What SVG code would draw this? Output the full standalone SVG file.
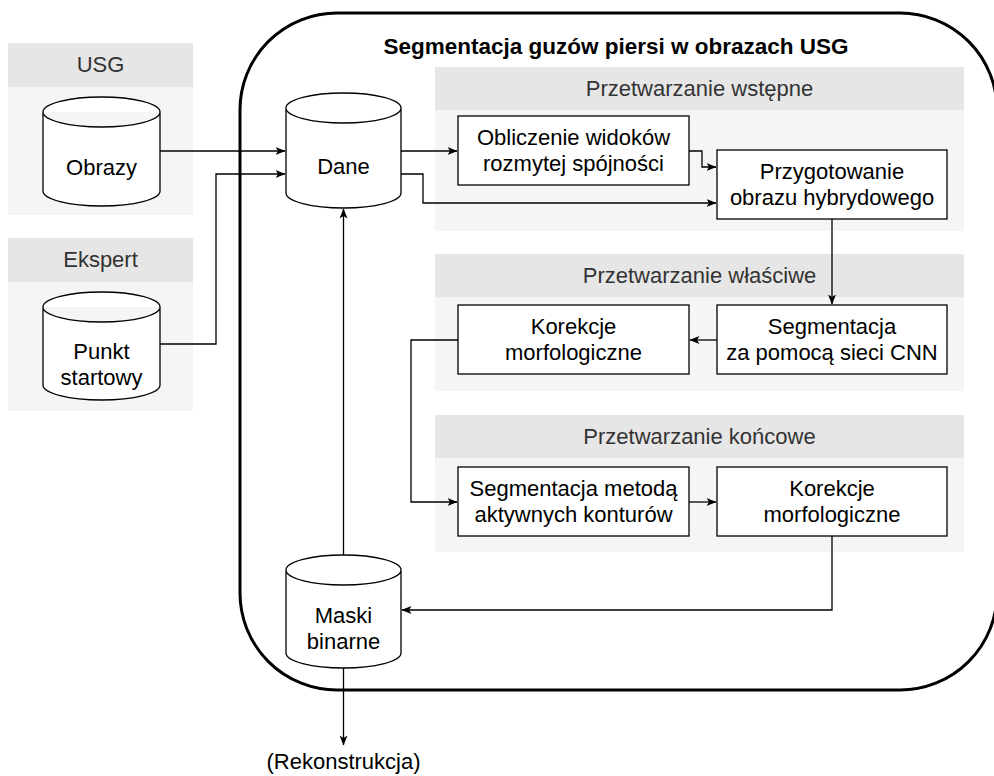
<svg xmlns="http://www.w3.org/2000/svg" width="994" height="776" viewBox="0 0 994 776">
<defs>
<style>
.hd{fill:#e6e6e6}
.bd{fill:#f5f5f5}
.box{fill:#fff;stroke:#000;stroke-width:1.3}
.cyl{fill:#fff;stroke:#000;stroke-width:1.3}
.t{font-family:"Liberation Sans",Arial,sans-serif;font-size:22px;fill:#000;text-anchor:middle}
.ht{font-family:"Liberation Sans",Arial,sans-serif;font-size:22px;fill:#333;text-anchor:middle}
.ttl{font-family:"Liberation Sans",Arial,sans-serif;font-size:22.5px;font-weight:bold;fill:#000;text-anchor:middle}
.c{fill:none;stroke:#000;stroke-width:1.3}
</style>
<marker id="ar" viewBox="0 0 10 8" refX="9.5" refY="4" markerWidth="10" markerHeight="8" markerUnits="userSpaceOnUse" orient="auto">
<path d="M0,0 L10,4 L0,8 L2.5,4 Z" fill="#000"/>
</marker>
</defs>
<rect width="994" height="776" fill="#fff"/>

<g id="container">
<rect x="240" y="13" width="757" height="677" rx="97" ry="97" fill="#fff" stroke="#000" stroke-width="3"/>
<text class="ttl" x="616" y="54">Segmentacja guzów piersi w obrazach USG</text>
</g>

<g id="group-usg">
<rect class="hd" x="8" y="43" width="185" height="44"/>
<rect class="bd" x="8" y="87" width="185" height="128"/>
<text class="ht" x="100.5" y="72">USG</text>
</g>
<g id="group-ekspert">
<rect class="hd" x="8" y="238" width="185" height="44"/>
<rect class="bd" x="8" y="282" width="185" height="129"/>
<text class="ht" x="100.5" y="267">Ekspert</text>
</g>
<g id="group-wstepne">
<rect class="hd" x="435" y="67" width="529" height="43"/>
<rect class="bd" x="435" y="110" width="529" height="121"/>
<text class="ht" x="699.5" y="96">Przetwarzanie wstępne</text>
</g>
<g id="group-wlasciwe">
<rect class="hd" x="435" y="254" width="529" height="43"/>
<rect class="bd" x="435" y="297" width="529" height="94"/>
<text class="ht" x="699.5" y="283">Przetwarzanie właściwe</text>
</g>
<g id="group-koncowe">
<rect class="hd" x="435" y="415" width="529" height="43"/>
<rect class="bd" x="435" y="458" width="529" height="94"/>
<text class="ht" x="699.5" y="444">Przetwarzanie końcowe</text>
</g>

<g id="node-obrazy">
<path class="cyl" d="M43,112 A58.5,15 0 0 1 160,112 V191 A58.5,15 0 0 1 43,191 Z M43,112 A58.5,15 0 0 0 160,112"/>
<text class="t" x="101.5" y="175">Obrazy</text>
</g>
<g id="node-punkt">
<path class="cyl" d="M43,307 A58.5,15 0 0 1 160,307 V385 A58.5,15 0 0 1 43,385 Z M43,307 A58.5,15 0 0 0 160,307"/>
<text class="t" x="101.5" y="359">Punkt</text>
<text class="t" x="101.5" y="385">startowy</text>
</g>
<g id="node-dane">
<path class="cyl" d="M286,108 A57.5,15 0 0 1 401,108 V193 A57.5,15 0 0 1 286,193 Z M286,108 A57.5,15 0 0 0 401,108"/>
<text class="t" x="343.5" y="174">Dane</text>
</g>
<g id="node-maski">
<path class="cyl" d="M286,570 A57.5,15 0 0 1 401,570 V653 A57.5,15 0 0 1 286,653 Z M286,570 A57.5,15 0 0 0 401,570"/>
<text class="t" x="343.5" y="623">Maski</text>
<text class="t" x="343.5" y="649">binarne</text>
</g>

<g id="node-obliczenie">
<rect class="box" x="458" y="116" width="231" height="69"/>
<text class="t" x="573.5" y="145">Obliczenie widoków</text>
<text class="t" x="573.5" y="171">rozmytej spójności</text>
</g>
<g id="node-przygotowanie">
<rect class="box" x="717" y="150" width="230" height="69"/>
<text class="t" x="832" y="179">Przygotowanie</text>
<text class="t" x="832" y="205">obrazu hybrydowego</text>
</g>
<g id="node-cnn">
<rect class="box" x="717" y="305" width="230" height="69"/>
<text class="t" x="832" y="334">Segmentacja</text>
<text class="t" x="832" y="360">za pomocą sieci CNN</text>
</g>
<g id="node-korekcje1">
<rect class="box" x="458" y="305" width="231" height="69"/>
<text class="t" x="573.5" y="334">Korekcje</text>
<text class="t" x="573.5" y="360">morfologiczne</text>
</g>
<g id="node-aktywne">
<rect class="box" x="458" y="467" width="231" height="69"/>
<text class="t" x="573.5" y="496">Segmentacja metodą</text>
<text class="t" x="573.5" y="522">aktywnych konturów</text>
</g>
<g id="node-korekcje2">
<rect class="box" x="717" y="467" width="230" height="69"/>
<text class="t" x="832" y="496">Korekcje</text>
<text class="t" x="832" y="522">morfologiczne</text>
</g>

<g id="node-rekonstrukcja">
<text class="t" x="343.5" y="769">(Rekonstrukcja)</text>
</g>

<g id="connectors">
<path class="c" marker-end="url(#ar)" d="M160,151 H285"/>
<path class="c" marker-end="url(#ar)" d="M160,344 H216 V174 H285"/>
<path class="c" marker-end="url(#ar)" d="M401,151 H457"/>
<path class="c" marker-end="url(#ar)" d="M401,174 H423 V203 H716"/>
<path class="c" marker-end="url(#ar)" d="M689,151 H702 V167 H716"/>
<path class="c" marker-end="url(#ar)" d="M832,219 V304"/>
<path class="c" marker-end="url(#ar)" d="M717,340 H690"/>
<path class="c" marker-end="url(#ar)" d="M458,340 H411 V502 H457"/>
<path class="c" marker-end="url(#ar)" d="M689,502 H716"/>
<path class="c" marker-end="url(#ar)" d="M832,536 V610 H402"/>
<path class="c" marker-end="url(#ar)" d="M343.5,555 V209"/>
<path class="c" marker-end="url(#ar)" d="M343.5,668 V745"/>
</g>
</svg>
